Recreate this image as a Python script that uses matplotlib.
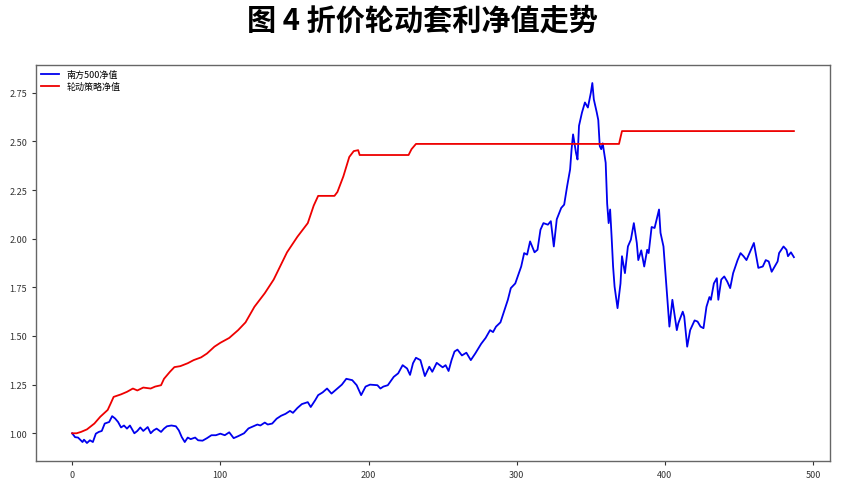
import matplotlib
matplotlib.use("Agg")
import matplotlib.pyplot as plt
from matplotlib.ticker import FormatStrFormatter

plt.rcParams['font.family'] = ['Noto Sans CJK SC', 'DejaVu Sans']

title = "图 4 折价轮动套利净值走势"
label_blue = "南方500净值"
label_red = "轮动策略净值"

# 南方500净值 (trading day index, net value)
blue_x = [0, 2, 4, 7, 8, 10, 12, 14, 16, 18, 20, 22, 25, 27, 29, 31, 33, 35, 37, 39,
          42, 44, 46, 48, 51, 53, 55, 57, 60, 62, 64, 67, 70, 72, 74, 76, 78, 80, 83, 85,
          88, 91, 94, 97, 100, 103, 106, 109, 112, 116, 119, 122, 125, 127, 130, 132, 135, 138, 141, 144,
          147, 149, 152, 155, 157, 159, 161, 164, 166, 169, 172, 175, 179, 182, 185, 189, 192, 195, 198, 201,
          206, 208, 210, 213, 217, 220, 223, 226, 228, 230, 232, 235, 238, 241, 243, 246, 250, 252, 254, 256,
          258, 260, 263, 266, 269, 272, 276, 279, 282, 284, 286, 289, 291, 294, 296, 299, 303, 305, 307, 309,
          312, 314, 316, 318, 321, 323, 325, 327, 330, 332, 334, 336, 337, 338, 340, 341, 342, 344, 345, 346,
          348, 350, 351, 352, 354, 355, 356, 357, 358, 360, 361, 362, 363, 364, 365, 366, 368, 370, 371, 373,
          375, 377, 379, 381, 382, 384, 386, 388, 389, 391, 393, 396, 397, 399, 401, 403, 405, 408, 409, 412,
          413, 415, 417, 420, 422, 424, 426, 428, 430, 431, 433, 435, 436, 438, 440, 442, 444, 446, 449, 451,
          453, 455, 458, 460, 463, 466, 468, 470, 472, 476, 477, 480, 482, 483, 485, 487]
blue_y = [1.00, 0.98, 0.978, 0.955, 0.967, 0.95, 0.964, 0.955, 0.998, 1.007, 1.012, 1.05, 1.058, 1.088, 1.076, 1.058, 1.03, 1.04, 1.024, 1.04,
          1.00, 1.012, 1.03, 1.012, 1.032, 1.00, 1.015, 1.024, 1.007, 1.024, 1.036, 1.04, 1.036, 1.015, 0.98, 0.955, 0.978, 0.97, 0.978, 0.964,
          0.962, 0.975, 0.99, 0.99, 0.998, 0.99, 1.005, 0.975, 0.985, 1.00, 1.025, 1.035, 1.045, 1.04, 1.055, 1.045, 1.05, 1.075, 1.09, 1.10,
          1.115, 1.105, 1.13, 1.15, 1.155, 1.16, 1.135, 1.17, 1.196, 1.21, 1.23, 1.204, 1.23, 1.25, 1.28, 1.273, 1.247, 1.196, 1.24, 1.25,
          1.247, 1.23, 1.24, 1.247, 1.29, 1.308, 1.35, 1.333, 1.30, 1.36, 1.388, 1.376, 1.294, 1.342, 1.316, 1.362, 1.339, 1.35, 1.32, 1.376,
          1.42, 1.43, 1.40, 1.414, 1.376, 1.41, 1.46, 1.49, 1.53, 1.52, 1.548, 1.57, 1.617, 1.686, 1.746, 1.77, 1.857, 1.926, 1.918, 1.986,
          1.93, 1.943, 2.046, 2.08, 2.072, 2.09, 1.96, 2.10, 2.158, 2.175, 2.27, 2.356, 2.46, 2.536, 2.44, 2.407, 2.58, 2.648, 2.674, 2.70,
          2.674, 2.75, 2.80, 2.716, 2.648, 2.61, 2.476, 2.46, 2.49, 2.39, 2.18, 2.08, 2.15, 2.01, 1.857, 1.754, 1.643, 1.77, 1.91, 1.823,
          1.96, 1.995, 2.08, 1.978, 1.89, 1.94, 1.857, 1.943, 1.926, 2.06, 2.055, 2.15, 2.03, 1.96, 1.754, 1.548, 1.686, 1.53, 1.565, 1.625,
          1.60, 1.445, 1.53, 1.58, 1.574, 1.548, 1.54, 1.65, 1.70, 1.686, 1.77, 1.797, 1.686, 1.79, 1.806, 1.78, 1.746, 1.823, 1.89, 1.926,
          1.91, 1.89, 1.943, 1.978, 1.85, 1.857, 1.89, 1.883, 1.83, 1.883, 1.926, 1.96, 1.943, 1.91, 1.93, 1.905]

# 轮动策略净值
red_x = [0, 3, 6, 10, 15, 19, 24, 26, 28, 33, 37, 41, 44, 48, 53, 56, 60, 62, 66, 69,
         73, 78, 82, 87, 91, 96, 100, 106, 112, 117, 123, 130, 136, 145, 152, 159, 163, 166, 177, 179,
         183, 187, 190, 193, 194, 227, 229, 232, 369, 371, 487]
red_y = [1.00, 1.00, 1.007, 1.02, 1.05, 1.085, 1.12, 1.153, 1.187, 1.20, 1.213, 1.23, 1.22, 1.235, 1.23, 1.24, 1.247, 1.28, 1.316, 1.34,
         1.345, 1.36, 1.376, 1.39, 1.41, 1.445, 1.465, 1.49, 1.53, 1.57, 1.65, 1.72, 1.79, 1.93, 2.01, 2.08, 2.17, 2.22, 2.22, 2.24,
         2.32, 2.42, 2.45, 2.455, 2.43, 2.43, 2.46, 2.487, 2.487, 2.553, 2.553]

x_ticks = [0, 100, 200, 300, 400, 500]
y_ticks = [1.00, 1.25, 1.50, 1.75, 2.00, 2.25, 2.50, 2.75]

fig = plt.figure(figsize=(8.44, 4.89), dpi=100)
ax = fig.add_axes([0.0427, 0.0552, 0.9407, 0.8098])

ax.plot(blue_x, blue_y, color='#0000ee', linewidth=1.3, label=label_blue)
ax.plot(red_x, red_y, color='#ee0000', linewidth=1.3, label=label_red)

ax.set_xticks(x_ticks)
ax.set_yticks(y_ticks)
ax.yaxis.set_major_formatter(FormatStrFormatter('%.2f'))
ax.tick_params(labelsize=6.5, length=3, width=0.8, colors='#333333')
for s in ax.spines.values():
    s.set_color('#666666')
    s.set_linewidth(1.0)

ax.legend(loc='upper left', frameon=False, fontsize=6.5, borderaxespad=0.15,
          labelspacing=0.35, handlelength=2.0)

fig.text(0.5, 0.957, title, ha='center', va='center', fontsize=21, fontweight='bold')

fig.savefig('out.png', dpi=100)
